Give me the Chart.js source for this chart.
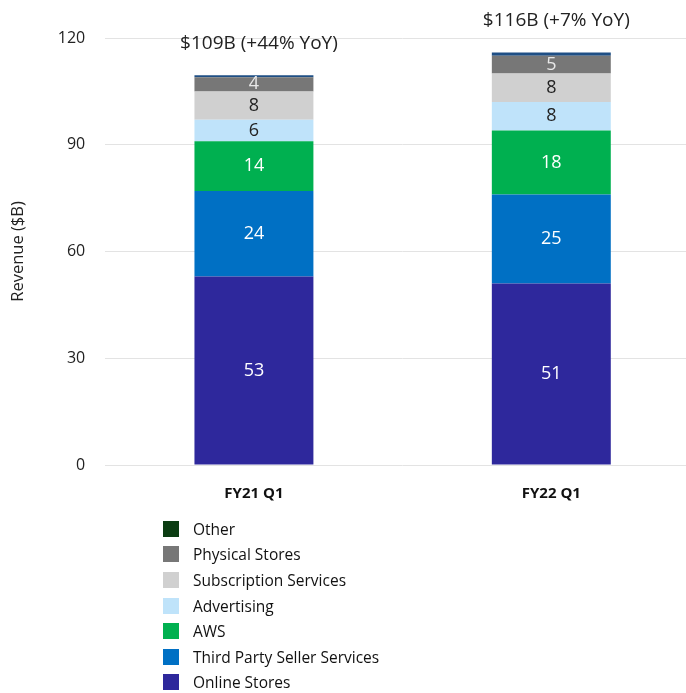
<!DOCTYPE html>
<html>
<head>
<meta charset="utf-8">
<script src="https://cdn.jsdelivr.net/npm/chart.js@4.4.1/dist/chart.umd.min.js"></script>
<style>
  html, body { margin: 0; padding: 0; background: #fff; overflow: hidden; }
  #wrap { position: relative; width: 686px; height: 693px; overflow: hidden; }
  #chart-box { position: absolute; left: 0; top: 0; width: 700px; height: 525px; }
  #legend { position: absolute; left: 163px; top: 516px; margin: 0; padding: 0; list-style: none;
    font-family: "Open Sans", sans-serif; font-size: 15.5px; color: #111; }
  #legend li { height: 25.6px; display: flex; align-items: center; }
  #legend .sw { display: inline-block; width: 16px; height: 16px; margin-right: 14px; }
</style>
</head>
<body>
<div id="wrap">
  <div id="chart-box"><canvas id="rev"></canvas></div>
  <ul id="legend"></ul>
</div>
<script>
// Amazon revenue by segment, $B
const quarters = ['FY21 Q1', 'FY22 Q1'];
const totalsText = ['$109B (+44% YoY)', '$116B (+7% YoY)'];
const onlineStores = [53, 51];
const thirdParty = [24, 25];
const aws = [14, 18];
const advertising = [6, 8];
const subscription = [8, 8];
const physicalStores = [4, 5];
const other = [0.5, 0.9];
const yTicks = [0, 30, 60, 90, 120];

const FONT = '"Open Sans", sans-serif';

const datasets = [
  { label: 'Online Stores', data: onlineStores, backgroundColor: '#2e289c', textColor: '#ffffff' },
  { label: 'Third Party Seller Services', data: thirdParty, backgroundColor: '#0070c4', textColor: '#ffffff' },
  { label: 'AWS', data: aws, backgroundColor: '#00b050', textColor: '#ffffff' },
  { label: 'Advertising', data: advertising, backgroundColor: '#bfe3fa', textColor: '#222222' },
  { label: 'Subscription Services', data: subscription, backgroundColor: '#d0d0d0', textColor: '#222222' },
  { label: 'Physical Stores', data: physicalStores, backgroundColor: '#777777', textColor: '#e8e8e8' },
  { label: 'Other', data: other, backgroundColor: '#1f4f85', legendColor: '#0b3d12', noLabel: true }
];

// numbers inside the segments + totals above the bars
const segLabels = {
  id: 'segLabels',
  afterDatasetsDraw(chart) {
    const ctx = chart.ctx;
    ctx.save();
    ctx.textAlign = 'center';
    ctx.textBaseline = 'middle';
    ctx.font = '18px ' + FONT;
    chart.data.datasets.forEach((ds, i) => {
      if (ds.noLabel) return;
      chart.getDatasetMeta(i).data.forEach((bar, j) => {
        ctx.fillStyle = ds.textColor;
        const mid = (bar.y + bar.base) / 2;
        ctx.fillText(String(ds.data[j]), bar.x, mid);
      });
    });
    const last = chart.getDatasetMeta(chart.data.datasets.length - 1);
    ctx.font = '19px ' + FONT;
    ctx.fillStyle = '#222';
    last.data.forEach((bar, j) => {
      ctx.fillText(totalsText[j], bar.x + 5, bar.y - 32);
    });
    ctx.restore();
  }
};

const chart = new Chart(document.getElementById('rev'), {
  type: 'bar',
  data: { labels: quarters, datasets },
  plugins: [segLabels],
  options: {
    responsive: true,
    maintainAspectRatio: false,
    animation: false,
    layout: { padding: { top: 38, left: 0, right: 0, bottom: 10 } },
    datasets: { bar: { barPercentage: 0.4, categoryPercentage: 1 } },
    plugins: { legend: { display: false }, tooltip: { enabled: false } },
    scales: {
      x: {
        stacked: true,
        grid: { display: false },
        border: { display: false },
        ticks: { color: '#111', font: { family: FONT, size: 15, weight: 'bold' }, padding: 12 }
      },
      y: {
        stacked: true,
        min: 0,
        max: 120,
        afterBuildTicks: axis => { axis.ticks = yTicks.map(v => ({ value: v })); },
        grid: { color: '#e3e3e3', lineWidth: 1, drawTicks: false },
        border: { display: false },
        ticks: { color: '#222', font: { family: FONT, size: 16 }, padding: 20 },
        title: { display: true, text: 'Revenue ($B)', color: '#222', font: { family: FONT, size: 16.5 }, padding: { top: 8, bottom: 10 } }
      }
    }
  }
});

// vertical legend, reversed like the original
const legendEl = document.getElementById('legend');
chart.data.datasets.slice().reverse().forEach(ds => {
  const li = document.createElement('li');
  const sw = document.createElement('span');
  sw.className = 'sw';
  sw.style.background = ds.legendColor || ds.backgroundColor;
  li.appendChild(sw);
  li.appendChild(document.createTextNode(ds.label));
  legendEl.appendChild(li);
});
</script>
</body>
</html>
